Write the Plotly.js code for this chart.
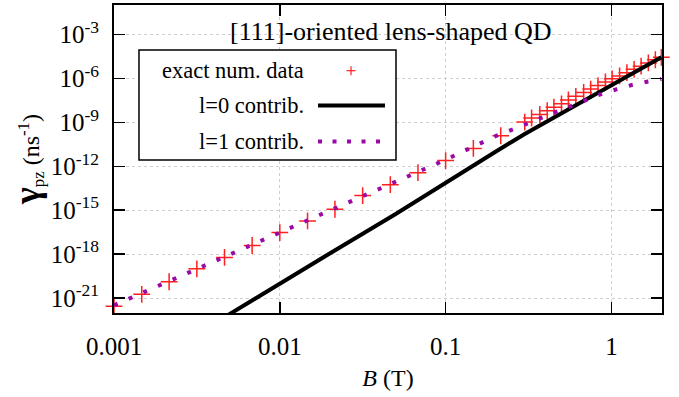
<!DOCTYPE html>
<html>
<head>
<meta charset="utf-8">
<script src="https://cdn.plot.ly/plotly-3.0.1.min.js"></script>
<style>html,body{margin:0;padding:0;background:#fff;}#chart{width:679px;height:397px;}</style>
</head>
<body>
<div id="chart"></div>
<script>
// exact numerical data (red +)
const B_exact = [0.001, 0.00147, 0.00215, 0.00316, 0.00464, 0.00681, 0.01, 0.0147, 0.0215, 0.0316,
  0.0464, 0.0681, 0.1, 0.147, 0.215, 0.30, 0.33, 0.37, 0.41, 0.45, 0.50, 0.55, 0.61, 0.68, 0.75,
  0.83, 0.92, 1.01, 1.12, 1.24, 1.37, 1.51, 1.67, 1.84, 2.0];
const gamma_exact = [2.8e-22, 1.8e-21, 1.3e-20, 1.0e-19, 6.0e-19, 3.9e-18, 3.0e-17, 1.86e-16, 1.17e-15, 1.0e-14,
  5.6e-14, 3.7e-13, 2.45e-12, 1.66e-11, 1.23e-10, 1.05e-9, 2.0e-9, 3.47e-9, 6.3e-9, 1.1e-8, 1.86e-8, 3.4e-8, 6.0e-8, 1.12e-7, 1.9e-7,
  3.3e-7, 5.75e-7, 9.5e-7, 1.5e-6, 2.5e-6, 4.2e-6, 6.9e-6, 1.15e-5, 1.9e-5, 2.8e-5];

// l=0 contribution (black solid)
const B_l0 = [0.0045, 0.005, 0.007, 0.01, 0.02, 0.05, 0.1, 0.2, 0.3, 0.5, 1.0, 2.0];
const gamma_l0 = [4.0e-23, 8.3e-23, 8.3e-22, 1.0e-20, 1.12e-18, 5.6e-16, 7.9e-14, 1.0e-11, 1.6e-10, 4.5e-9, 3.5e-7, 2.8e-5];

// l=1 contribution (purple dotted)
const B_l1 = [0.001, 0.00316, 0.01, 0.0316, 0.1, 0.2, 0.25, 0.31, 0.38, 0.47, 0.57, 0.7, 0.875, 1.08, 1.34, 1.66, 2.0];
const gamma_l1 = [3.2e-22, 1.0e-19, 3.0e-17, 1.0e-14, 2.8e-12, 1.15e-10, 2.95e-10, 8.1e-10, 2.1e-9, 5.6e-9, 1.45e-8, 3.5e-8, 8.9e-8, 1.86e-7, 3.7e-7, 6.2e-7, 9.1e-7];

// ticks
const xTickVals = [0.001, 0.01, 0.1, 1];
const xTickText = ['0.001', '0.01', '0.1', '1'];
const yTickVals = [1e-21, 1e-18, 1e-15, 1e-12, 1e-9, 1e-6, 1e-3];
const yTickText = ['10<sup>-21</sup>', '10<sup>-18</sup>', '10<sup>-15</sup>', '10<sup>-12</sup>', '10<sup>-9</sup>', '10<sup>-6</sup>', '10<sup>-3</sup>'];

// legend labels
const legendLabels = ['exact num. data', 'l=0 contrib.', 'l=1 contrib.'];
const titleText = '[111]-oriented lens-shaped QD';

const FONT = '"Liberation Serif", "Times New Roman", Times, serif';
const PURPLE = '#9a08a6';

const traces = [
  {x: B_exact, y: gamma_exact, mode: 'markers', type: 'scatter', cliponaxis: false,
   marker: {symbol: 'cross-thin', size: 12, line: {color: '#ff2020', width: 1.5}}, showlegend: false},
  {x: B_l0, y: gamma_l0, mode: 'lines', type: 'scatter',
   line: {color: '#000', width: 4}, showlegend: false},
  {x: B_l1, y: gamma_l1, mode: 'lines', type: 'scatter',
   line: {color: PURPLE, width: 4, dash: '4px,12px'}, showlegend: false}
];

// legend geometry (paper coords)
const lx0 = 0.0456, lx1 = 0.5146, ly0 = 0.4968, ly1 = 0.854;
const rowY = [0.7867, 0.6737, 0.5568];
const textX = 0.3504, sx0 = 0.3723, sx1 = 0.4945, plusX = 0.4325;

const shapes = [
  {type: 'rect', xref: 'paper', yref: 'paper', x0: lx0, x1: lx1, y0: ly0, y1: ly1,
   fillcolor: '#fff', line: {color: '#000', width: 1.5}, layer: 'above'},
  {type: 'line', xref: 'paper', yref: 'paper', x0: sx0, x1: sx1, y0: rowY[1], y1: rowY[1],
   line: {color: '#000', width: 4}, layer: 'above'},
  {type: 'line', xref: 'paper', yref: 'paper', x0: sx0, x1: sx1, y0: rowY[2], y1: rowY[2],
   line: {color: PURPLE, width: 4, dash: '4px,10.5px'}, layer: 'above'},
  {type: 'line', xref: 'paper', yref: 'paper', x0: plusX - 0.0082, x1: plusX + 0.0082, y0: rowY[0], y1: rowY[0],
   line: {color: '#ff2020', width: 1.2}, layer: 'above'},
  {type: 'line', xref: 'paper', yref: 'paper', x0: plusX, x1: plusX, y0: rowY[0] - 0.0146, y1: rowY[0] + 0.0146,
   line: {color: '#ff2020', width: 1.2}, layer: 'above'}
];

const annotations = [
  {xref: 'paper', yref: 'paper', x: 0.505, y: 0.913, text: titleText, showarrow: false,
   xanchor: 'center', yanchor: 'middle', font: {family: FONT, size: 26, color: '#000'}}
].concat(legendLabels.map((t, i) => ({
  xref: 'paper', yref: 'paper', x: textX, y: rowY[i], text: t, showarrow: false,
  xanchor: 'right', yanchor: 'middle', font: {family: FONT, size: 22.5, color: '#000'}
})));

const axisCommon = {
  type: 'log', showline: true, linecolor: '#000', linewidth: 2, mirror: 'ticks',
  ticks: 'inside', ticklen: 11, tickwidth: 1.5, tickcolor: '#000',
  showgrid: true, gridcolor: '#cfcfcf', gridwidth: 1, griddash: 'dot',
  zeroline: false, tickfont: {family: FONT, size: 25, color: '#000'}
};

const layout = {
  width: 679, height: 397,
  margin: {l: 114, r: 17, t: 5, b: 84},
  paper_bgcolor: '#fff', plot_bgcolor: '#fff',
  font: {family: FONT},
  showlegend: false,
  xaxis: Object.assign({}, axisCommon, {
    range: [-3, 0.305], tickmode: 'array', tickvals: xTickVals, ticktext: xTickText,
    ticklabelstandoff: 10,
    title: {text: '<i>B</i> (T)', font: {family: FONT, size: 24, color: '#000'}, standoff: 10}
  }),
  yaxis: Object.assign({}, axisCommon, {
    range: [-22.02, -0.98], tickmode: 'array', tickvals: yTickVals, ticktext: yTickText,
    ticklabelstandoff: 8,
    title: {text: '<b style="font-size:36px">γ</b><sub>pz</sub> (ns<sup>-1</sup>)', font: {family: FONT, size: 24, color: '#000'}, standoff: 4}
  }),
  shapes: shapes,
  annotations: annotations
};

Plotly.newPlot('chart', traces, layout, {staticPlot: true, displayModeBar: false});
</script>
</body>
</html>
